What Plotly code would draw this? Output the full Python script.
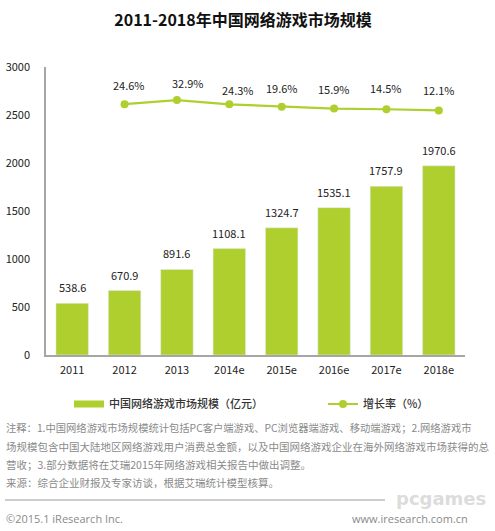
import plotly.graph_objects as go

categories = ["2011", "2012", "2013", "2014e", "2015e", "2016e", "2017e", "2018e"]
market_size = [538.6, 670.9, 891.6, 1108.1, 1324.7, 1535.1, 1757.9, 1970.6]
growth_rate = [None, 24.6, 32.9, 24.3, 19.6, 15.9, 14.5, 12.1]
y_ticks = [0, 500, 1000, 1500, 2000, 2500, 3000]
growth_label_yshift = [0, 19, 17, 14, 19, 20, 21, 20]
growth_label_xshift = [0, 4, 11, 9, 0, 0, 0, 0]

title = "2011-2018年中国网络游戏市场规模"
notes = [
    "注释：1.中国网络游戏市场规模统计包括PC客户端游戏、PC浏览器端游戏、移动端游戏；2.网络游戏市",
    "场规模包含中国大陆地区网络游戏用户消费总金额，以及中国网络游戏企业在海外网络游戏市场获得的总",
    "营收；3.部分数据将在艾瑞2015年网络游戏相关报告中做出调整。",
    "来源：综合企业财报及专家访谈，根据艾瑞统计模型核算。",
]

CJK = "Noto Sans CJK SC"
GREEN = "#AECF2E"
W, H = 495, 531

fig = go.Figure()
fig.add_bar(x=categories, y=market_size, name="中国网络游戏市场规模（亿元）",
            marker_color=GREEN, width=0.62, showlegend=False)
# legend key for the bars: a wide, flat swatch as in the reference
fig.add_scatter(x=categories[:1], y=[None], name="中国网络游戏市场规模（亿元）", legend="legend",
                mode="lines", line=dict(color=GREEN, width=7))
fig.add_scatter(x=categories, y=growth_rate, name="增长率（%）", yaxis="y2", legend="legend2",
                mode="lines+markers", line=dict(color=GREEN, width=2.2),
                marker=dict(color=GREEN, size=8))

ann = []
for i, v in enumerate(market_size):
    ann.append(dict(x=i, y=v, text=f"{v:.1f}", showarrow=False, yshift=16,
                    font=dict(size=11, color="#222")))
for i, v in enumerate(growth_rate):
    if v is not None:
        ann.append(dict(x=i, y=v, yref="y2", text=f"{v:.1f}%", showarrow=False,
                        xshift=growth_label_xshift[i], yshift=growth_label_yshift[i],
                        font=dict(size=11, color="#222")))


def page_text(x, y, text, size, color, anchor="left", **kw):
    ann.append(dict(xref="paper", yref="paper", x=(x - 46) / 419, y=(355 - y) / 288,
                    text=text, showarrow=False, xanchor=anchor, yanchor="middle",
                    font=dict(size=size, color=color, **kw)))


page_text(4, 427.5, notes[0], 10.3, "#8a8a8a")
page_text(4, 446, notes[1], 10.5, "#8a8a8a")
page_text(4, 464.5, notes[2], 10.5, "#8a8a8a")
page_text(4, 482, notes[3], 10.5, "#8a8a8a")
page_text(4, 518, "©2015.1 iResearch Inc.", 11, "#8a8a8a", family="Open Sans")
page_text(470, 518, "www.iresearch.com.cn", 11, "#8a8a8a", anchor="right", family="Open Sans")
page_text(488, 498, "pcgames", 18, "#dcdcdc", anchor="right", family="DejaVu Sans", weight="bold")

fig.update_layout(
    width=W, height=H, margin=dict(l=46, r=30, t=67, b=176),
    paper_bgcolor="white", plot_bgcolor="white",
    font=dict(family=CJK, size=11, color="#222"),
    title=dict(text=f"<b>{title}</b>", x=(243 - 46) / 419, xanchor="center", xref="paper",
               y=1 - 20 / H, yanchor="middle", font=dict(size=16, color="#111")),
    xaxis=dict(type="category", categoryorder="array", categoryarray=categories, automargin=False,
               range=[-0.5, 7.5], showline=True, linecolor="#a6a6a6", linewidth=1.5,
               ticks="outside", ticklen=4, tickcolor="rgba(0,0,0,0)",
               showgrid=False, tickfont=dict(size=11, color="#222")),
    yaxis=dict(range=[0, 3000], tickvals=y_ticks, showgrid=False, zeroline=False, automargin=False,
               showline=True, linecolor="#a6a6a6", linewidth=1.5,
               ticks="outside", ticklen=12, tickcolor="rgba(0,0,0,0)",
               tickfont=dict(size=11, color="#222")),
    yaxis2=dict(overlaying="y", side="right", range=[-477, 99], visible=False, automargin=False),
    showlegend=True,
    legend=dict(orientation="h", x=(69 - 46) / 419, xanchor="left", y=(355 - 404) / 288,
                yanchor="middle", font=dict(size=11, color="#333", weight=500), bgcolor="rgba(0,0,0,0)"),
    legend2=dict(orientation="h", x=(323 - 46) / 419, xanchor="left", y=(355 - 404) / 288,
                 yanchor="middle", font=dict(size=11, color="#333", weight=500), bgcolor="rgba(0,0,0,0)"),
    annotations=ann,
    shapes=[dict(type="line", xref="paper", yref="paper", x0=(5 - 46) / 419, x1=(385 - 46) / 419,
                 y0=(355 - 500) / 288, y1=(355 - 500) / 288, line=dict(color="#9a9a9a", width=1))],
)
fig.write_html("out.html", post_script="document.body.style.margin='0';",
               config={"displayModeBar": False})
